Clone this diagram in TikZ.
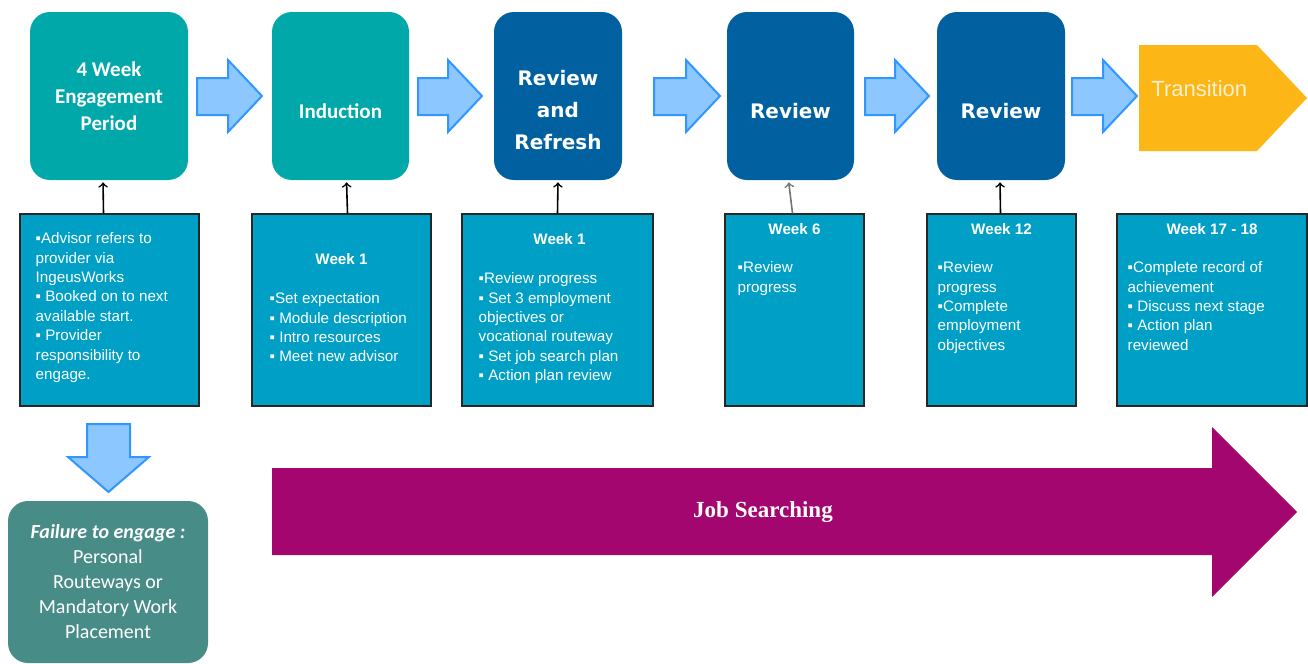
\documentclass[tikz,border=0pt]{standalone}
\usepackage{fontspec}
\setmainfont{Liberation Sans}
\newfontfamily\carlito{Carlito}
\newfontfamily\dejavu{DejaVu Sans}
\newfontfamily\libserif{Liberation Serif}
\usetikzlibrary{calc}

\definecolor{tealbox}{RGB}{0,168,170}
\definecolor{navybox}{RGB}{0,96,160}
\definecolor{amberbox}{RGB}{252,182,22}
\definecolor{weekfill}{RGB}{0,160,198}
\definecolor{failfill}{RGB}{72,140,136}
\definecolor{jobpurple}{RGB}{163,7,111}
\definecolor{arrowfill}{RGB}{140,200,255}
\definecolor{arrowline}{RGB}{50,150,255}

\begin{document}
\begin{tikzpicture}[x=0.5pt, y=-0.5pt, >=to,
	stagebox/.style={rounded corners=10pt, inner sep=0pt, minimum height=84pt},
	stagetitle/.style={text=white, align=center, inner sep=0pt},
	weekrect/.style={draw=black!85, line width=0.7pt, fill=weekfill, inner sep=0pt, minimum height=96pt},
	weekhead/.style={anchor=base, inner sep=0pt, text=white, font=\bfseries\fontsize{7.6}{9}\selectfont},
	weeklist/.style={anchor=north west, align=left, inner sep=0pt, text=white, font=\fontsize{7.6}{9.7}\selectfont},
	blockarrow/.style={draw=arrowline, fill=arrowfill, line width=1pt, line join=miter},
	linkarrow/.style={->, line width=0.8pt, shorten >=1pt}]
	\useasboundingbox (0,0) rectangle (1308,664);

	% stage boxes along the top
	\node[stagebox, fill=tealbox, minimum width=79pt] (t1) at (109,96) {};
	\node[stagetitle, font=\carlito\bfseries\fontsize{10.5}{13.5}\selectfont] at (t1.center) {4 Week\\Engagement\\Period};
	\node[stagebox, fill=tealbox, minimum width=68.5pt] (t2) at (340.5,96) {};
	\node[stagetitle, font=\carlito\bfseries\fontsize{10.5}{13.5}\selectfont] at ($(t2.center)+(0,15)$) {Induction};
	\node[stagebox, fill=navybox, minimum width=64pt] (t3) at (558,96) {};
	\node[stagetitle, font=\dejavu\bfseries\fontsize{10}{16}\selectfont] at ($(t3.center)+(0,14)$) {Review\\and\\Refresh};
	\node[stagebox, fill=navybox, minimum width=63.5pt] (t4) at (790.5,96) {};
	\node[stagetitle, font=\dejavu\bfseries\fontsize{10}{16}\selectfont] at ($(t4.center)+(0,15)$) {Review};
	\node[stagebox, fill=navybox, minimum width=64pt] (t5) at (1001,96) {};
	\node[stagetitle, font=\dejavu\bfseries\fontsize{10}{16}\selectfont] at ($(t5.center)+(0,15)$) {Review};
	\fill[amberbox] (1139,45) -- (1257,45) -- (1307,98) -- (1257,151) -- (1139,151) -- cycle;
	\node[anchor=base west, inner sep=0pt, text=white!80!amberbox, font=\fontsize{11}{13}\selectfont] (t6) at (1151,97) {Transition};

	% block arrows between the stages
	\foreach \a/\b in {197/262, 418/482, 654/720, 865/929, 1072/1137}{
		\draw[blockarrow] (\a,78) -- (\b-34,78) -- (\b-34,60) -- (\b,96) -- (\b-34,132) -- (\b-34,115) -- (\a,115) -- cycle;
	}

	% week boxes
	\node[weekrect, minimum width=89.5pt] (b1) at (109.5,310) {};
	\node[weekrect, minimum width=89.5pt] (b2) at (341.5,310) {};
	\node[weekrect, minimum width=95.5pt] (b3) at (557.5,310) {};
	\node[weekrect, minimum width=69.5pt] (b4) at (794.5,310) {};
	\node[weekrect, minimum width=74.5pt] (b5) at (1001.5,310) {};
	\node[weekrect, minimum width=95pt] (b6) at (1212,310) {};

	\node[weeklist] at ($(b1.north west)+(16,19)$) {▪Advisor refers to\\provider via\\IngeusWorks\\▪ Booked on to next\\available start.\\▪ Provider\\responsibility to\\engage.};

	\node[weekhead] at ($(b2.north)+(0,51)$) {Week 1};
	\node[weeklist] at ($(b2.north west)+(18,79)$) {▪Set expectation\\▪ Module description\\▪ Intro resources\\▪ Meet new advisor};

	\node[weekhead] at ($(b3.north)+(2,31)$) {Week 1};
	\node[weeklist] at ($(b3.north west)+(17,59)$) {▪Review progress\\▪ Set 3 employment\\objectives or\\vocational routeway\\▪ Set job search plan\\▪ Action plan review};

	\node[weekhead] at ($(b4.north)+(0,21)$) {Week 6};
	\node[weeklist] at ($(b4.north west)+(13,48)$) {▪Review\\progress};

	\node[weekhead] at ($(b5.north)+(0,21)$) {Week 12};
	\node[weeklist] at ($(b5.north west)+(11,48)$) {▪Review\\progress\\▪Complete\\employment\\objectives};

	\node[weekhead] at ($(b6.north)+(0,21)$) {Week 17 - 18};
	\node[weeklist] at ($(b6.north west)+(11,48)$) {▪Complete record of\\achievement\\▪ Discuss next stage\\▪ Action plan\\reviewed};

	% week boxes feed the stages
	\foreach \i/\s/\c in {1/-3pt/black, 2/3pt/black, 3/0pt/black, 4/-1pt/black!55, 5/-0.5pt/black}{
		\draw[linkarrow, draw=\c] ([xshift=\s]b\i.north) -- ([xshift=\s]t\i.south);
	}

	% failure route
	\draw[blockarrow] (87,424) -- (130,424) -- (130,457) -- (149,457) -- (108.5,492) -- (68,457) -- (87,457) -- cycle;
	\node[stagebox, fill=failfill, minimum width=100pt, minimum height=81pt, text=white, align=center,
		font=\carlito\fontsize{10}{12.5}\selectfont] (fail) at (108,582) {\textbf{\textit{Failure to engage :}}\\Personal\\Routeways or\\Mandatory Work\\Placement};

	% job searching runs underneath
	\fill[jobpurple] (272,468) -- (1212,468) -- (1212,427) -- (1297,512) -- (1212,597) -- (1212,555) -- (272,555) -- cycle;
	\node[text=white, inner sep=0pt, font=\libserif\bfseries\fontsize{11.5}{14}\selectfont] (job) at (763,512) {Job Searching};

\end{tikzpicture}
\end{document}
